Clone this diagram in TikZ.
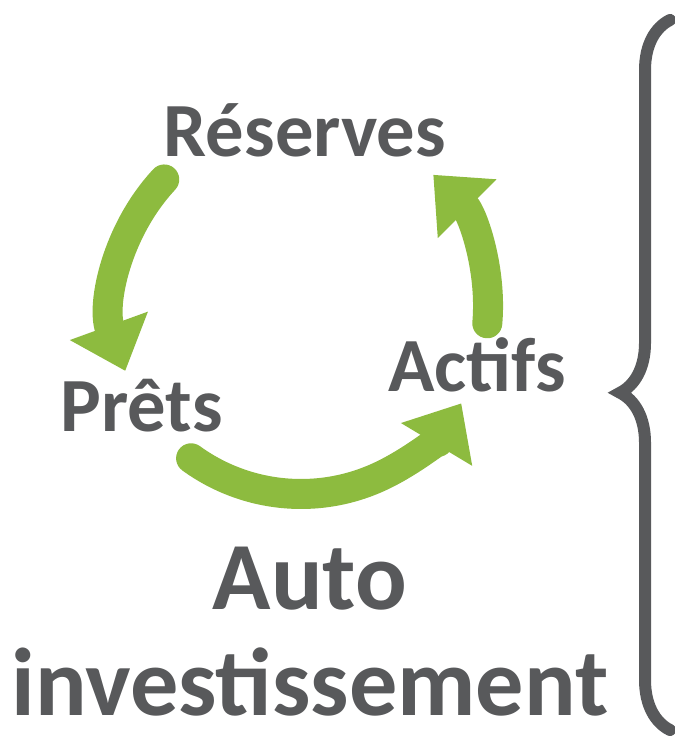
\documentclass[tikz,border=0pt]{standalone}
\usepackage{fontspec}
\setmainfont{Carlito}
\usetikzlibrary{arrows.meta,calc,decorations.pathreplacing}
\definecolor{txtgray}{HTML}{58595B}
\definecolor{cyclegreen}{HTML}{8DBB3F}
\begin{document}
\begin{tikzpicture}[
    stage/.style={text=txtgray, font=\fontsize{21.8}{26}\selectfont\bfseries, inner sep=0pt, anchor=base},
    cyclearrow/.style={draw=cyclegreen, line width=0.3cm, line cap=round,
      -{Triangle[width=0.8cm,length=0.48cm]}}
  ]
    \useasboundingbox (0,0) rectangle (6.74,7.46);

    \coordinate (ctr) at (3.01,4.39);
    \node[stage] (res) at (3.05,5.89) {Réserves};
    \node[stage] (pre) at (1.42,3.14) {Prêts};
    \node[stage] (act) at (4.77,3.54) {Actifs};
    \node[text=txtgray, font=\fontsize{27.4}{29}\selectfont\bfseries, align=center, inner sep=0pt]
      (auto) at (3.10,1.14) {Auto\\[0.04cm]investissement};

    \draw[cyclearrow] ($(ctr)+(137:1.87)$) arc[start angle=137, end angle=200, radius=1.87];
    \draw[cyclearrow] ($(ctr)+(234:1.87)$) arc[start angle=234, end angle=329, radius=1.87];
    \draw[cyclearrow] ($(ctr)+(-5:1.87)$) arc[start angle=-5, end angle=45, radius=1.87];

    \draw[txtgray, line width=0.12cm, line cap=round, decorate,
      decoration={brace, amplitude=0.5cm, aspect=0.475}] (6.70,0.16) -- (6.70,7.26);
\end{tikzpicture}
\end{document}
